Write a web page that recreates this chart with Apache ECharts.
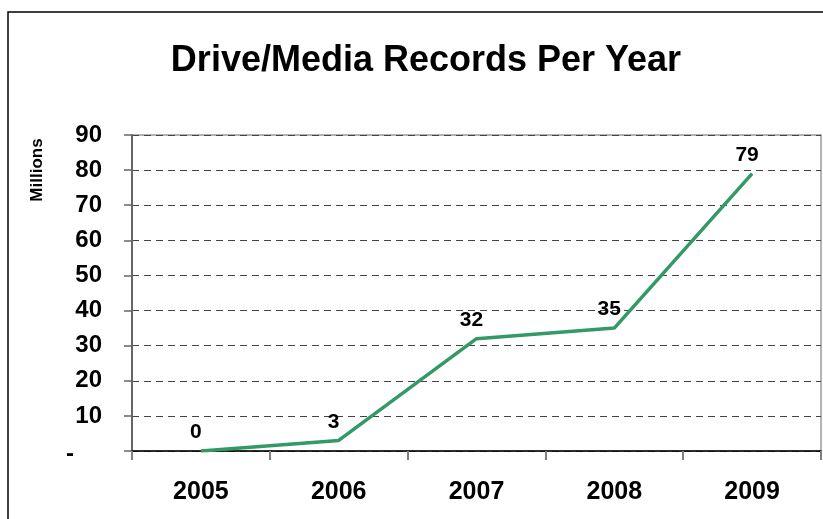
<!DOCTYPE html>
<html>
<head>
<meta charset="utf-8">
<script src="https://cdn.jsdelivr.net/npm/echarts@6/dist/echarts.min.js"></script>
<style>
  html, body { margin: 0; padding: 0; background: #fff; }
  #chart { width: 823px; height: 519px; }
</style>
</head>
<body>
<div id="chart"></div>
<script>
// Drive/media records per year, in millions
const years = ['2005', '2006', '2007', '2008', '2009'];
const records = [0, 3, 32, 35, 79];
const yTicks = { min: 0, max: 90, step: 10 };

const FONT = '"Liberation Sans", Arial, sans-serif';
const chart = echarts.init(document.getElementById('chart'), null, { renderer: 'canvas' });

chart.setOption({
  backgroundColor: '#ffffff',
  animation: false,
  title: {
    text: 'Drive/Media Records Per Year',
    left: 421,
    top: 38,
    textAlign: 'center',
    textStyle: { fontFamily: FONT, fontSize: 36, fontWeight: 'bold', color: '#000' }
  },
  graphic: [
    {
      type: 'rect',
      shape: { x: 8, y: 12, width: 900, height: 600 },
      style: { fill: 'none', stroke: '#000', lineWidth: 1.5 },
      silent: true
    },
    {
      type: 'text',
      x: 37, y: 170,
      rotation: Math.PI / 2,
      style: {
        text: 'Millions',
        font: 'bold 17px ' + FONT,
        fill: '#000',
        align: 'center',
        verticalAlign: 'middle'
      }
    }
  ],
  grid: {
    left: 132, right: 2, top: 135, bottom: 68,
    show: true, borderColor: '#9a9a9a', borderWidth: 1.5, backgroundColor: 'transparent'
  },
  xAxis: {
    type: 'category',
    data: years,
    boundaryGap: true,
    axisLine: { show: true, lineStyle: { color: '#000', width: 1.5 } },
    axisTick: { show: true, alignWithLabel: false, length: 9, lineStyle: { color: '#808080', width: 2 } },
    axisLabel: { margin: 29, fontFamily: FONT, fontSize: 25, fontWeight: 'bold', color: '#000' },
    splitLine: { show: false }
  },
  yAxis: {
    type: 'value',
    min: yTicks.min, max: yTicks.max, interval: yTicks.step,
    axisLine: { show: true, lineStyle: { color: '#666', width: 2 } },
    axisTick: { show: true, inside: false, length: 8, lineStyle: { color: '#666', width: 1.5 } },
    axisLabel: {
      margin: 30,
      fontFamily: FONT, fontSize: 24, fontWeight: 'bold', color: '#000',
      formatter: v => v === 0 ? '{d|-}' : String(v),
      rich: { d: { fontFamily: FONT, fontSize: 24, fontWeight: 'bold', color: '#000', padding: [6, 28, 0, 0] } }
    },
    splitLine: { show: true, lineStyle: { color: '#444', width: 1, type: [7, 5] } }
  },
  series: [{
    type: 'line',
    data: records,
    symbol: 'circle',
    symbolSize: 0,
    showSymbol: true,
    lineStyle: { color: '#339966', width: 3.5 },
    itemStyle: { color: '#339966' },
    label: {
      show: true,
      position: 'top',
      distance: 8,
      offset: [-5, 0],
      fontFamily: FONT, fontSize: 21, fontWeight: 'bold', color: '#000'
    }
  }]
});
</script>
</body>
</html>
